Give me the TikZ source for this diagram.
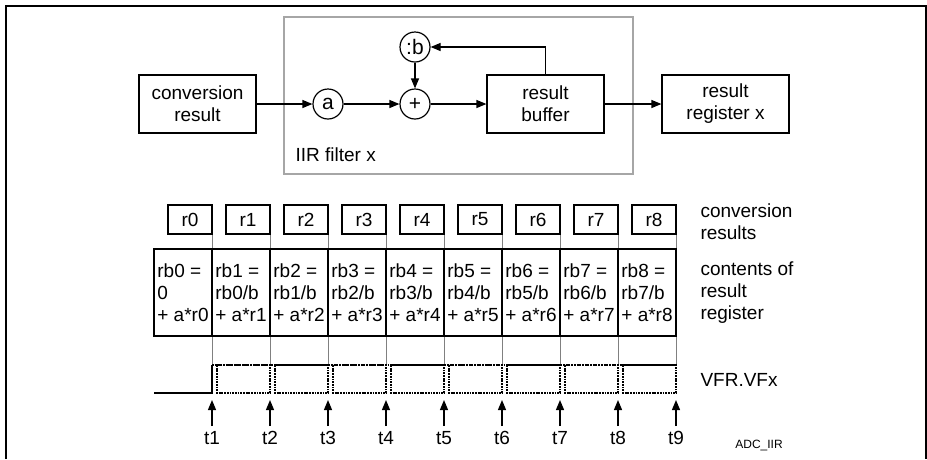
\documentclass[tikz,border=0pt]{standalone}
\usepackage{fontspec}
\setmainfont{Liberation Sans}
\usetikzlibrary{arrows.meta}

\tikzset{
  txt/.style={font=\fontsize{19}{22}\selectfont},
  blk/.style={txt,draw,line width=1.2pt,minimum height=58pt,align=center,inner sep=0pt},
  op/.style={draw,circle,line width=1.2pt,minimum size=30pt,inner sep=0pt,font=\fontsize{21}{24}\selectfont},
  sig/.style={line width=1.2pt,-{Triangle[length=10pt,width=8pt]}},
  rbox/.style={txt,draw,line width=1.2pt,minimum width=44pt,minimum height=29pt,inner sep=0pt},
  cell/.style={txt,draw,line width=1.2pt,minimum width=58pt,minimum height=87pt,inner sep=0pt,align=left},
  grid/.style={gray,line width=0.8pt},
  pulse/.style={line width=2.4pt,dash pattern=on 1.8pt off 0.9pt},
}

\begin{document}
\begin{tikzpicture}[x=1pt,y=-1pt]
\path[use as bounding box] (0,0) rectangle (927,459);
\draw[line width=2.2pt] (6,459) -- (6,6) -- (926,6) -- (926,459);

% filter block
\node[draw=gray!70,line width=1.2pt,minimum width=349pt,minimum height=157pt] (filt) at (458.5,95.5) {};
\node[txt,anchor=west] (filtlbl) at (292,155) {IIR filter x};
\node[blk,minimum width=117pt] (conv) at (197.5,104) {conversion\\result};
\node[op] (mula) at (328,104) {a};
\node[op] (add) at (415,104) {+};
\node[op] (divb) at (415,47) {:b};
\node[blk,minimum width=117pt] (buf) at (545.5,104) {result\\buffer};
\node[blk,minimum width=127pt] (reg) at (725.5,104) {result\\register x};
\draw[sig] (conv) -- (mula);
\draw[sig] (mula) -- (add);
\draw[sig] (divb) -- (add);
\draw[sig] (add) -- (buf);
\draw[sig] (buf) -- (reg);
\draw[sig] (buf.north) |- (divb);

% timing
\foreach \k in {1,...,9}
  \draw[grid] (212+58*\k-58,205) -- (212+58*\k-58,365);
\foreach \i in {0,...,8}{
  \node[rbox] (r\i) at (190+58*\i,219.5) {r\i};
  \pgfmathtruncatemacro\j{\i-1}
  \node[cell] (rb\i) at (183+58*\i,292.5)
    {rb\i\ =\\\ifnum\i=0 0\else rb\j/b\fi\\+ a*r\i};
}
\draw[line width=1.2pt] (154,393) -- (212,393) -- (212,365);
\draw[pulse] (212,365) -- (676,365);
\foreach \i in {0,...,7}
  \draw[pulse] (217+58*\i,365) rectangle (270+58*\i,393);
\foreach \k in {1,...,9}{
  \coordinate (tip\k) at (212+58*\k-58,400);
  \node[txt,inner sep=5pt] (t\k) at (212+58*\k-58,438) {t\k};
  \draw[sig] (t\k) -- (tip\k);
}

\node[txt,anchor=west,align=left] (convlbl) at (697,222) {conversion\\results};
\node[txt,anchor=west,align=left] (rblbl) at (697,292.5) {contents of\\result\\register};
\node[txt,anchor=west] (vfrlbl) at (697,380) {VFR.VFx};
\node[font=\fontsize{12}{14}\selectfont] (figid) at (759,445) {ADC\_IIR};
\end{tikzpicture}
\end{document}
